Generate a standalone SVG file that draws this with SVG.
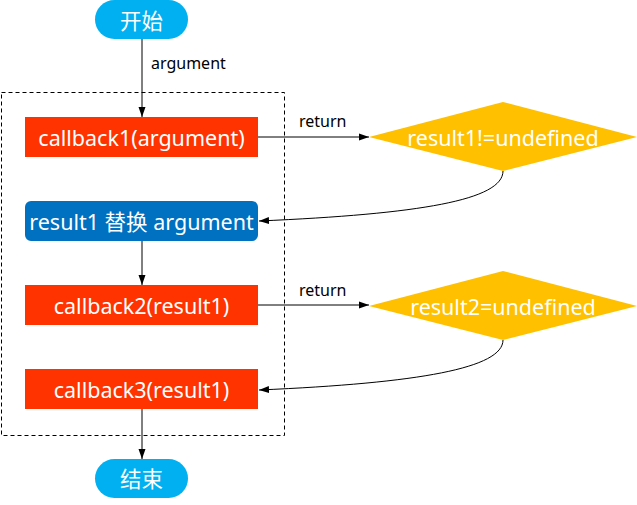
<svg xmlns="http://www.w3.org/2000/svg" width="637" height="505" viewBox="0 0 637 505">
<defs>
<style>
.t{font-family:"Noto Sans","Noto Sans CJK SC",sans-serif;font-size:21.5px;fill:#fff;text-anchor:middle;dominant-baseline:central}
.l{font-family:"Noto Sans","Noto Sans CJK SC",sans-serif;font-size:16px;fill:#000}
.c{stroke:#000;stroke-width:1;fill:none;marker-end:url(#a)}
.red{fill:#FF3300}
.dia{fill:#FFC000}
</style>
<marker id="a" viewBox="0 0 10 10" refX="10" refY="5" markerWidth="10" markerHeight="10" markerUnits="userSpaceOnUse" orient="auto">
<path d="M0,1.5 L10,5 L0,8.5 Z" fill="#000"/>
</marker>
</defs>
<rect x="1.5" y="92.5" width="283" height="343" fill="none" stroke="#000" stroke-dasharray="4,3"/>
<g id="connectors">
<path class="c" d="M142,39 V117"/>
<text class="l" x="151" y="69">argument</text>
<path class="c" d="M258,137 H369"/>
<text class="l" x="299" y="127">return</text>
<path class="c" d="M503,171 C503,200 420,214 259,221"/>
<path class="c" d="M142,241 V285"/>
<path class="c" d="M258,305 H369"/>
<text class="l" x="299" y="296">return</text>
<path class="c" d="M503,340 C503,368 420,383 259,390"/>
<path class="c" d="M142,409 V459"/>
</g>
<g id="start"><rect x="95" y="0" width="93" height="39" rx="19.5" fill="#00B0F0"/><text class="t" x="141.5" y="20">开始</text></g>
<g id="callback1"><rect class="red" x="25" y="117" width="233" height="40"/><text class="t" x="141.5" y="137">callback1(argument)</text></g>
<g id="check1"><polygon class="dia" points="369,137 503,102 637,137 503,171"/><text class="t" x="503" y="137">result1!=undefined</text></g>
<g id="replace"><rect x="25" y="201" width="233" height="40" rx="6" fill="#0070C0"/><text class="t" x="141.5" y="221">result1 替换 argument</text></g>
<g id="callback2"><rect class="red" x="25" y="285" width="233" height="40"/><text class="t" x="141.5" y="305">callback2(result1)</text></g>
<g id="check2"><polygon class="dia" points="369,306 503,271 637,306 503,340"/><text class="t" x="503" y="306">result2=undefined</text></g>
<g id="callback3"><rect class="red" x="25" y="369" width="233" height="40"/><text class="t" x="141.5" y="389">callback3(result1)</text></g>
<g id="end"><rect x="95" y="459" width="93" height="39" rx="19.5" fill="#00B0F0"/><text class="t" x="141.5" y="478">结束</text></g>
</svg>
